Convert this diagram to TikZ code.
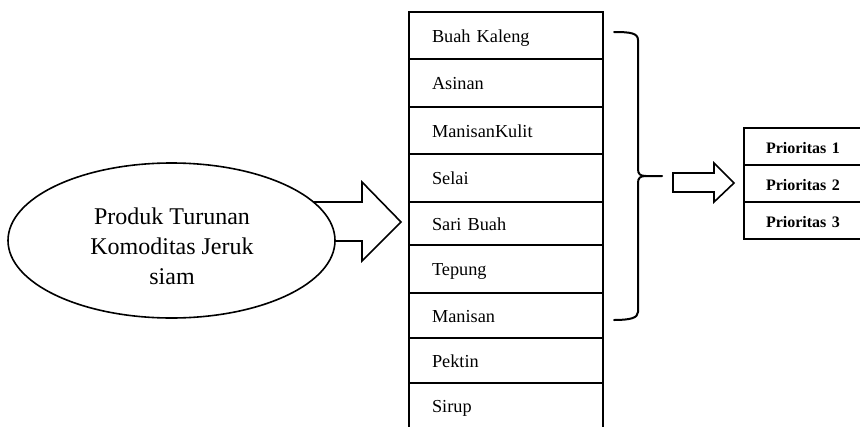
\documentclass[tikz,border=0pt]{standalone}
\usepackage{fontspec}
\setmainfont{Liberation Serif}
\usetikzlibrary{shapes.geometric}
\begin{document}
\begin{tikzpicture}[x=1pt,y=-1pt,
  blockarrow/.style={draw=black, fill=white, line width=1.6pt, line join=miter},
  source/.style={ellipse, draw=black, fill=white, line width=1.6pt,
    minimum width=327pt, minimum height=155pt, inner sep=0pt},
  sourcetext/.style={align=center, inner sep=0pt,
    font=\fontsize{24}{30}\selectfont},
  listrow/.style={rectangle, draw=black, line width=2pt, anchor=north west,
    text width=148pt, inner xsep=23pt, inner ysep=0pt, align=left,
    text height=15.5pt, text depth=2.5pt,
    font=\fontsize{18.3}{22}\selectfont},
  prow/.style={rectangle, draw=black, line width=2pt, anchor=north west,
    text width=118pt, inner xsep=22pt, inner ysep=0pt, align=left,
    minimum height=37pt, text height=13pt, text depth=0pt,
    font=\fontsize{16}{19}\selectfont\bfseries},
  bracepath/.style={draw=black, line width=2pt, line cap=round}
]
\useasboundingbox (0,0) rectangle (860,426);

% block arrow from the source ellipse to the product list
\draw[blockarrow] (290,202) -- (362,202) -- (362,182) -- (401,222)
  -- (362,261) -- (362,241) -- (290,241) -- cycle;

% source ellipse
\node[source] (src) at (171.5,240.5) {};
\node[sourcetext] (srclabel) at (172,246.5)
  {Produk Turunan\\Komoditas Jeruk\\siam};

% list of derived products
\node[listrow, minimum height=47pt] (r1) at (408,11)  {Buah Kaleng};
\node[listrow, minimum height=48pt] (r2) at (408,58)  {Asinan};
\node[listrow, minimum height=47pt] (r3) at (408,106) {ManisanKulit};
\node[listrow, minimum height=48pt] (r4) at (408,153) {Selai};
\node[listrow, minimum height=43pt] (r5) at (408,201) {Sari Buah};
\node[listrow, minimum height=48pt] (r6) at (408,244) {Tepung};
\node[listrow, minimum height=45pt] (r7) at (408,292) {Manisan};
\node[listrow, minimum height=45pt] (r8) at (408,337) {Pektin};
\node[listrow, minimum height=46pt] (r9) at (408,382) {Sirup};

% curly brace grouping the first seven products
\draw[bracepath] (614,32) .. controls (630,32) and (638,33) .. (638,40)
  -- (638,169) .. controls (638,174) and (640,176) .. (646,176) -- (662,176);
\draw[bracepath] (646,176) .. controls (640,176) and (638,178) .. (638,183)
  -- (638,312) .. controls (638,318) and (630,320) .. (614,320);

% block arrow towards the priority table
\draw[blockarrow] (673,173) -- (714,173) -- (714,163) -- (734,183)
  -- (714,202) -- (714,192) -- (673,192) -- cycle;

% priority table
\node[prow] (p1) at (743,127) {Prioritas 1};
\node[prow] (p2) at (743,164) {Prioritas 2};
\node[prow] (p3) at (743,201) {Prioritas 3};
\end{tikzpicture}
\end{document}
